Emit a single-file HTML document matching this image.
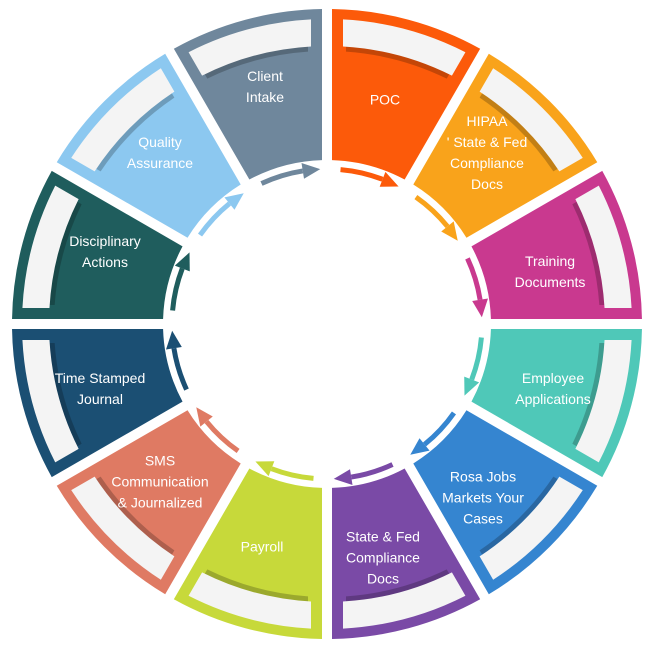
<!DOCTYPE html>
<html><head><meta charset="utf-8"><style>
html,body{margin:0;padding:0;background:#fff;width:650px;height:649px;overflow:hidden}
#wrap{position:relative;width:650px;height:649px}
svg{position:absolute;left:0;top:0}
.t{position:absolute;color:#fff;font-family:"Liberation Sans",sans-serif;font-size:14px;line-height:21px;text-align:center;white-space:nowrap;transform:translate(-50%,-50%)}
</style></head><body>
<div id="wrap">
<svg id="s" width="650" height="649" viewBox="0 0 650 649"></svg>
<div class="t" style="left:265px;top:87px">Client<br>Intake</div>
<div class="t" style="left:385px;top:100px">POC</div>
<div class="t" style="left:487px;top:153px">HIPAA<br>' State &amp; Fed<br>Compliance<br>Docs</div>
<div class="t" style="left:550px;top:272px">Training<br>Documents</div>
<div class="t" style="left:553px;top:389px">Employee<br>Applications</div>
<div class="t" style="left:483px;top:498px">Rosa Jobs<br>Markets Your<br>Cases</div>
<div class="t" style="left:383px;top:558px">State &amp; Fed<br>Compliance<br>Docs</div>
<div class="t" style="left:262px;top:547px">Payroll</div>
<div class="t" style="left:160px;top:482px">SMS<br>Communication<br>&amp; Journalized</div>
<div class="t" style="left:100px;top:389px">Time Stamped<br>Journal</div>
<div class="t" style="left:105px;top:252px">Disciplinary<br>Actions</div>
<div class="t" style="left:160px;top:153px">Quality<br>Assurance</div>
</div>
<script>
var cx=327,cy=324,R=315,r=164,g=5;
var cols=["#fc5a0a","#f9a31b","#c9398f","#4fc8b8","#3585d0","#7a4aa6","#c7d93a","#df7a63","#1b4f73","#1f5d5d","#8cc8f0","#6f879c"];
function P(t,rad){t=t*Math.PI/180;return [(cx+rad*Math.sin(t)).toFixed(2),(cy-rad*Math.cos(t)).toFixed(2)];}
function d(rad,gg){return Math.asin(gg/rad)*180/Math.PI;}
function band(a1,a2,ro,ri,gg){
 var o1=P(a1+d(ro,gg),ro),o2=P(a2-d(ro,gg),ro),i2=P(a2-d(ri,gg),ri),i1=P(a1+d(ri,gg),ri);
 return "M"+o1+" A"+ro+","+ro+" 0 0 1 "+o2+" L"+i2+" A"+ri+","+ri+" 0 0 0 "+i1+"Z";
}
var h="";
for(var k=0;k<12;k++){
 var a1=k*30,a2=a1+30;
 h+='<path d="'+band(a1,a2,R,r,g)+'" fill="'+cols[k]+'"/>';
 h+='<path d="'+band(a1,a2,301,273,g+14)+'" fill="#000" opacity="0.22"/>';
 h+='<path d="'+band(a1,a2,305,278,g+11)+'" fill="#f4f4f4"/>';
 var s=a1+5,e=a2-3,ar=155;
 var eb=e-6;
 var p1=P(s,ar),p2=P(eb,ar);
 h+='<path d="M'+p1+' A'+ar+','+ar+' 0 0 1 '+p2+'" fill="none" stroke="'+cols[k]+'" stroke-width="5"/>';
 var tip=P(e+0.5,ar),t=eb*Math.PI/180;
 var b=P(eb,ar),nx=Math.sin(t),ny=-Math.cos(t);
 var l=[(+b[0]+nx*8).toFixed(2),(+b[1]+ny*8).toFixed(2)],rr=[(+b[0]-nx*8).toFixed(2),(+b[1]-ny*8).toFixed(2)];
 h+='<polygon points="'+tip+' '+l+' '+rr+'" fill="'+cols[k]+'"/>';
}
document.getElementById("s").innerHTML=h;
</script>
</body></html>
